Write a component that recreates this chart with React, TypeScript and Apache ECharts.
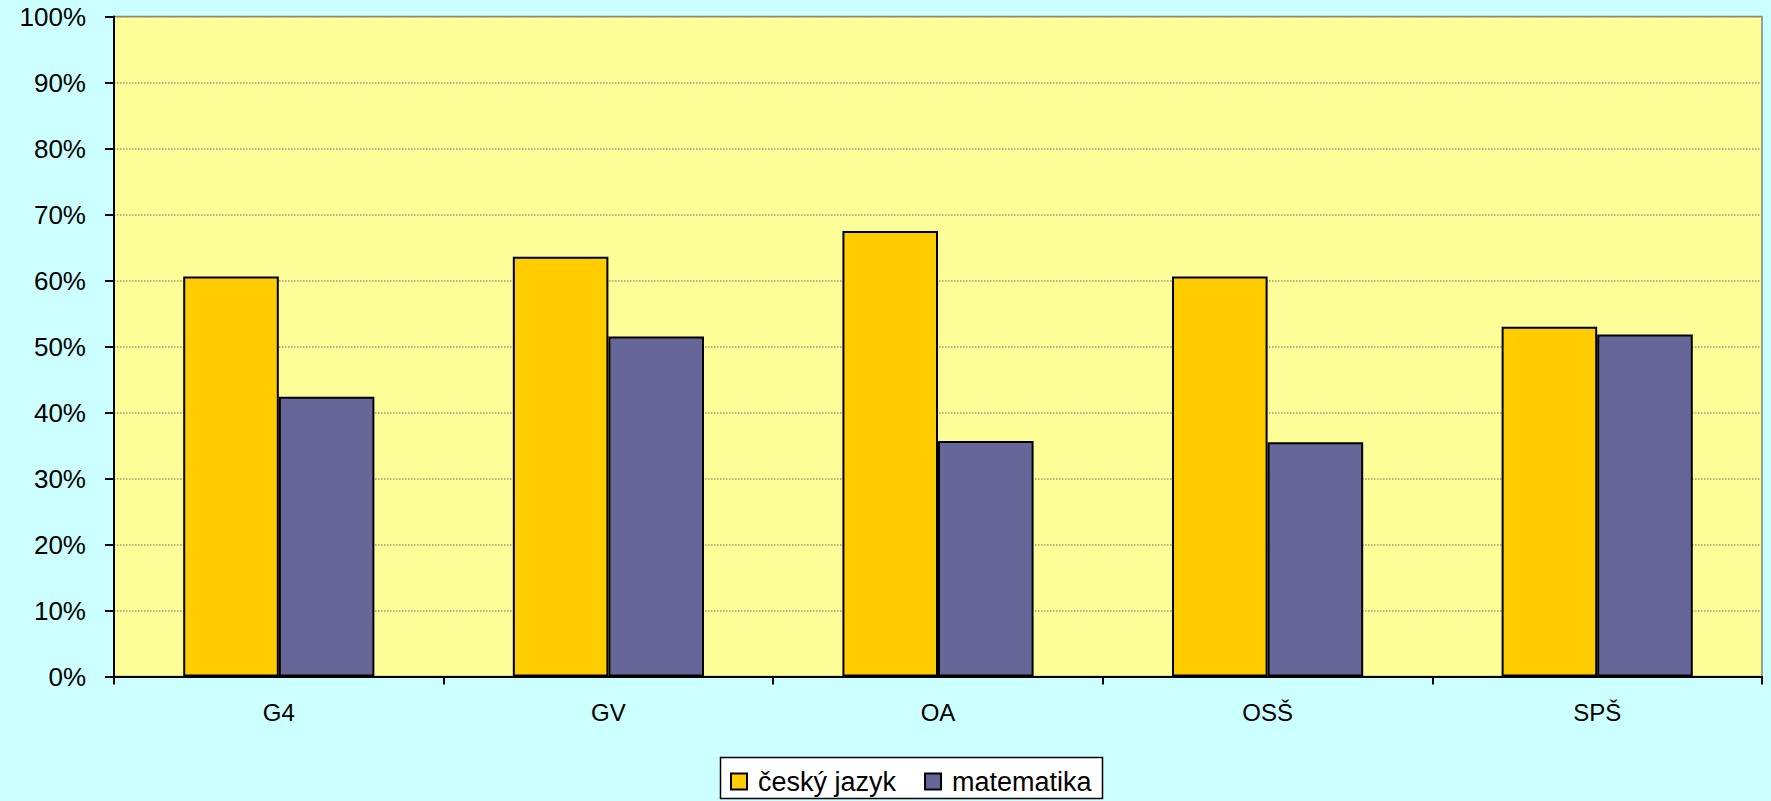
import React, { useEffect, useRef } from "react";
import * as echarts from "echarts";

const categories = ["G4", "GV", "OA", "OSŠ", "SPŠ"];
const seriesNames = ["český jazyk", "matematika"];
const czechValues = [60.6, 63.6, 67.5, 60.6, 53.0];
const mathValues = [42.4, 51.5, 35.7, 35.5, 51.8];
const yTicks = { min: 0, max: 100, interval: 10 };

export default function App() {
  const ref = useRef<HTMLDivElement>(null);
  useEffect(() => {
    document.body.style.margin = "0";
    const chart = echarts.init(ref.current!, undefined, { renderer: "svg" });
    const font = "'Liberation Sans', Arial, sans-serif";
    chart.setOption({
      animation: false,
      backgroundColor: "#CCFFFF",
      grid: {
        left: 114,
        right: 9,
        top: 16.5,
        bottom: 124.5,
        show: true,
        backgroundColor: "#FFFF99",
        borderColor: "#808080",
        borderWidth: 1.5,
      },
      graphic: [
        {
          type: "rect",
          shape: { x: 720.5, y: 757.5, width: 382, height: 41 },
          style: { fill: "#FFFFFF", stroke: "#000000", lineWidth: 1.5 },
          z: 0,
        },
      ],
      legend: {
        left: 730,
        top: 768,
        padding: 0,
        itemWidth: 16,
        itemHeight: 16,
        itemGap: 28,
        icon: "rect",
        textStyle: {
          fontFamily: font,
          fontSize: 27,
          color: "#000",
          padding: [0, 0, 0, 6],
        },
        z: 5,
      },
      xAxis: {
        type: "category",
        data: categories,
        axisLine: { lineStyle: { color: "#000", width: 2 } },
        axisTick: { show: true, length: 8, lineStyle: { color: "#000", width: 2 } },
        axisLabel: { fontFamily: font, fontSize: 24, color: "#000", margin: 24 },
      },
      yAxis: {
        type: "value",
        min: yTicks.min,
        max: yTicks.max,
        interval: yTicks.interval,
        axisLine: { show: true, lineStyle: { color: "#000", width: 2 } },
        axisTick: { show: true, length: 9, lineStyle: { color: "#000", width: 2 } },
        axisLabel: {
          fontFamily: font,
          fontSize: 26,
          color: "#000",
          margin: 28,
          formatter: "{value}%",
        },
        splitLine: {
          show: true,
          lineStyle: { color: "#A09A70", type: "dotted", width: 1.5 },
        },
      },
      series: [
        {
          name: seriesNames[0],
          type: "bar",
          data: czechValues,
          barGap: "0%",
          barCategoryGap: "42%",
          itemStyle: { color: "#FFCC00", borderColor: "#000", borderWidth: 2 },
        },
        {
          name: seriesNames[1],
          type: "bar",
          data: mathValues,
          itemStyle: { color: "#666699", borderColor: "#000", borderWidth: 2 },
        },
      ],
    });
    return () => chart.dispose();
  }, []);
  return <div ref={ref} style={{ width: 1771, height: 801 }} />;
}
